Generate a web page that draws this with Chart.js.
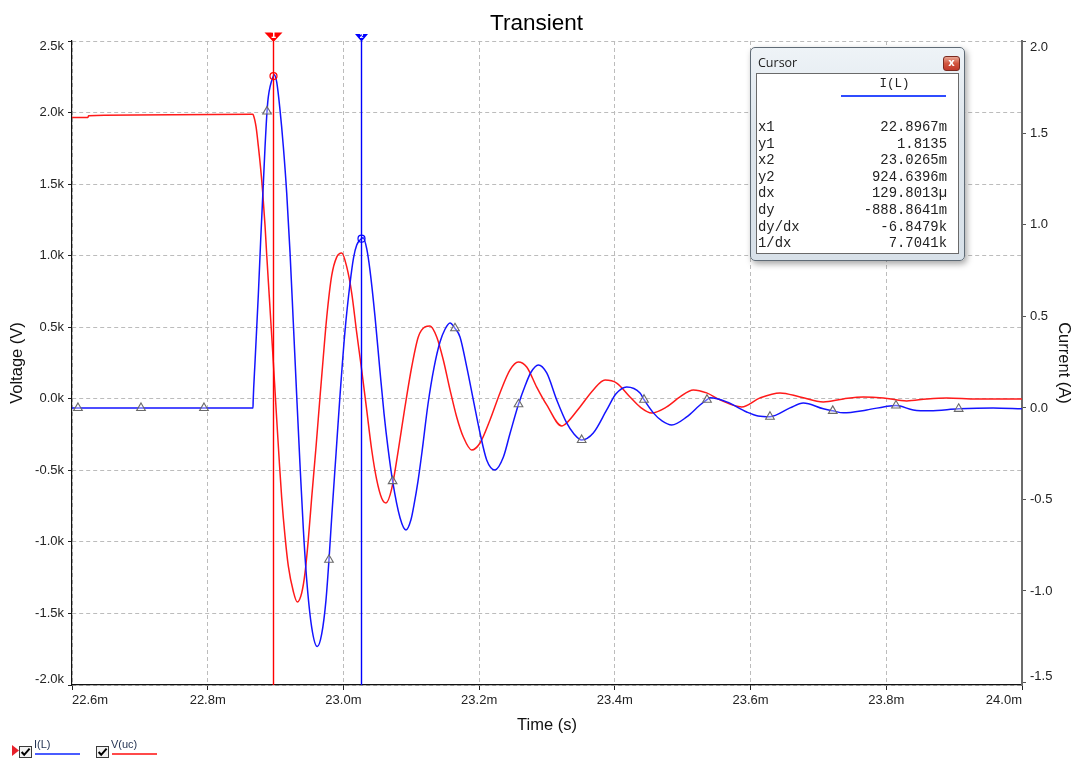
<!DOCTYPE html>
<html>
<head>
<meta charset="utf-8">
<title>Transient</title>
<script src="https://cdn.jsdelivr.net/npm/chart.js@4.4.1/dist/chart.umd.min.js"></script>
<style>
  html, body { margin: 0; padding: 0; background: #fff; }
  #wrap { position: relative; width: 1073px; height: 758px; overflow: hidden;
          font-family: "Liberation Sans", Arial, sans-serif; }
  #wrap canvas { position: absolute; left: 0; top: 0; }
  #cursorWin { position: absolute; left: 750px; top: 47px; width: 215px; height: 214px;
               box-sizing: border-box; border: 1px solid #5f6b76; border-radius: 5px;
               background: linear-gradient(#eef3f7, #dde5ec 40%, #d8e1e9);
               box-shadow: 2px 3px 6px rgba(0,0,0,0.35); }
  #cursorWin .cap { position: absolute; left: 7px; top: 6px; font: 12.5px "Open Sans", "Noto Sans", sans-serif;
                    color: #1b1b1b; }
  #cursorWin .close { position: absolute; left: 192px; top: 8px; width: 15px; height: 13px;
                      border: 1px solid #7a2a20; border-radius: 3px;
                      background: linear-gradient(#e8a593, #d2553f 50%, #c0392b);
                      color: #fff; font: bold 10px "DejaVu Sans", sans-serif; text-align: center; line-height: 12px; }
  #cursorWin .pane { position: absolute; left: 5px; top: 25px; width: 203px; height: 181px;
                     box-sizing: border-box; border: 1px solid #6a6a6a; background: #fff; }
  #cursorWin .hdr { position: absolute; left: 85px; width: 105px; top: 3px; text-align: center;
                    font: 12.5px "Liberation Mono", "DejaVu Sans Mono", monospace; color: #222; }
  #cursorWin .uline { position: absolute; left: 84px; width: 105px; top: 21px; height: 1.5px; background: #2f4cff; }
  #cursorWin .rows { position: absolute; left: 1px; right: 11px; top: 45px;
                     font: 13.9px "Liberation Mono", "DejaVu Sans Mono", monospace; color: #222; }
  #cursorWin .row { height: 16.6px; line-height: 16.6px; display: flex; justify-content: space-between; white-space: pre; }
  .lg { position: absolute; }
  .lgText { font: 11px "Liberation Sans", Arial, sans-serif; color: #1f2f4f; }
</style>
</head>
<body>
<div id="wrap">
  <canvas id="chart" width="1073" height="758"></canvas>

  <div id="cursorWin">
    <div class="cap">Cursor</div>
    <div class="close">x</div>
    <div class="pane">
      <div class="hdr">I(L)</div>
      <div class="uline"></div>
      <div class="rows" id="rows"></div>
    </div>
  </div>

  <!-- trace legend -->
  <svg class="lg" style="left:12px;top:745px" width="7" height="11" viewBox="0 0 7 11">
    <path d="M0 0 L7 5.5 L0 11 Z" fill="#e8202a"/>
  </svg>
  <svg class="lg" style="left:19px;top:746px" width="13" height="12" viewBox="0 0 13 12">
    <rect x="0.5" y="0.5" width="12" height="11" fill="#f2f2f2" stroke="#3a3a3a"/>
    <path d="M2.6 6 L5.2 8.8 L10.6 2.6" stroke="#000" stroke-width="2" fill="none"/>
  </svg>
  <div class="lg lgText" style="left:34px;top:738px">I(L)</div>
  <div class="lg" style="left:35px;top:753px;width:45px;height:1.5px;background:#4a5cff"></div>
  <svg class="lg" style="left:96px;top:746px" width="13" height="12" viewBox="0 0 13 12">
    <rect x="0.5" y="0.5" width="12" height="11" fill="#f2f2f2" stroke="#3a3a3a"/>
    <path d="M2.6 6 L5.2 8.8 L10.6 2.6" stroke="#000" stroke-width="2" fill="none"/>
  </svg>
  <div class="lg lgText" style="left:111px;top:738px">V(uc)</div>
  <div class="lg" style="left:112px;top:753px;width:45px;height:1.5px;background:#ff4a4a"></div>
</div>

<script>
// ---- time axis (ms) ----
const timeTicks  = [22.6, 22.8, 23.0, 23.2, 23.4, 23.6, 23.8, 24.0];
const timeLabels = ['22.6m', '22.8m', '23.0m', '23.2m', '23.4m', '23.6m', '23.8m', '24.0m'];

// ---- left axis: capacitor voltage (V) ----
const voltTicks  = [-2000, -1500, -1000, -500, 0, 500, 1000, 1500, 2000, 2500];
const voltLabels = ['-2.0k', '-1.5k', '-1.0k', '-0.5k', '0.0k', '0.5k', '1.0k', '1.5k', '2.0k', '2.5k'];

// ---- right axis: inductor current (A) ----
const currTicks  = [-1.5, -1.0, -0.5, 0, 0.5, 1.0, 1.5, 2.0];
const currLabels = ['-1.5', '-1.0', '-0.5', '0.0', '0.5', '1.0', '1.5', '2.0'];

// ---- I(L) trace ----
const iTime = [22.6000, 22.8667, 22.8670, 22.8697, 22.8746, 22.8781, 22.8819, 22.8844, 22.8893, 22.8980,
               22.9017, 22.9065, 22.9114, 22.9164, 22.9213, 22.9261, 22.9311, 22.9360, 22.9409, 22.9459,
               22.9533, 22.9615, 22.9680, 22.9743, 22.9832, 22.9891, 22.9950, 23.0023, 23.0097, 23.0149,
               23.0196, 23.0290, 23.0343, 23.0392, 23.0465, 23.0539, 23.0598, 23.0657, 23.0834, 23.0922,
               23.0996, 23.1040, 23.1099, 23.1158, 23.1246, 23.1335, 23.1423, 23.1497, 23.1571, 23.1718,
               23.1817, 23.1914, 23.2013, 23.2111, 23.2234, 23.2356, 23.2455, 23.2676, 23.2764, 23.2872,
               23.2996, 23.3143, 23.3290, 23.3398, 23.3682, 23.3880, 23.4017, 23.4175, 23.4371, 23.4567,
               23.4695, 23.4838, 23.5059, 23.5255, 23.5402, 23.5648, 23.5943, 23.6110, 23.6581, 23.6777,
               23.7072, 23.7367, 23.7712, 23.8055, 23.8398, 23.8644, 23.9573, 24.0000];
const iAmps = [0, 0, 0.04, 0.25, 0.62, 0.92, 1.22, 1.42, 1.70, 1.82,
               1.78, 1.63, 1.43, 1.175, 0.85, 0.47, 0.07, -0.31, -0.66, -0.94,
               -1.20, -1.304, -1.235, -1.05, -0.57, -0.25, 0.07, 0.42, 0.68, 0.82,
               0.89, 0.93, 0.87, 0.75, 0.50, 0.20, -0.03, -0.22, -0.60, -0.667,
               -0.61, -0.53, -0.40, -0.24, 0.02, 0.22, 0.36, 0.43, 0.464, 0.388,
               0.224, 0.044, -0.137, -0.284, -0.339, -0.27, -0.14, 0.12, 0.195, 0.235,
               0.191, 0.044, -0.082, -0.142, -0.137, -0.011, 0.077, 0.115, 0.082, -0.027,
               -0.071, -0.093, -0.049, 0.016, 0.055, 0.033, -0.022, -0.044, 0, 0.027,
               -0.005, -0.027, -0.011, 0.011, -0.011, -0.016, 0, -0.005];

// ---- V(uc) trace ----
const vTime = [22.6000, 22.6235, 22.6245, 22.7500, 22.8660, 22.8672, 22.8712, 22.8746, 22.8781, 22.8810,
               22.8844, 22.8869, 22.8908, 22.8943, 22.8967, 22.8992, 22.9017, 22.9055, 22.9090, 22.9139,
               22.9188, 22.9261, 22.9320, 22.9385, 22.9434, 22.9482, 22.9533, 22.9596, 22.9655, 22.9703,
               22.9754, 22.9827, 22.9901, 22.9975, 23.0048, 23.0122, 23.0196, 23.0269, 23.0343, 23.0417,
               23.0490, 23.0564, 23.0627, 23.0711, 23.0809, 23.0907, 23.1006, 23.1103, 23.1202, 23.1276,
               23.1375, 23.1472, 23.1571, 23.1669, 23.1767, 23.1890, 23.2013, 23.2160, 23.2307, 23.2455,
               23.2577, 23.2701, 23.2848, 23.2996, 23.3217, 23.3290, 23.3486, 23.3682, 23.3855, 23.4027,
               23.4223, 23.4371, 23.4543, 23.4764, 23.4960, 23.5156, 23.5353, 23.5550, 23.5869, 23.6139,
               23.6434, 23.6729, 23.7072, 23.7367, 23.7662, 23.7956, 23.8301, 23.8598, 23.8891, 23.9333,
               24.0000];
const vVolts = [1965, 1966, 1978, 1984, 1988, 1983, 1901, 1765, 1605, 1445,
                1215, 1010, 710, 440, 255, 55, -145, -440, -690, -960,
                -1170, -1345, -1420, -1357, -1217, -987, -686, -337, 13, 290,
                570, 860, 990, 1019, 923, 739, 460, 201, -78, -358,
                -565, -695, -728, -630, -358, -57, 222, 432, 502, 509,
                432, 271, 62, -127, -267, -358, -309, -148, 41, 202,
                257, 222, 82, -43, -190, -169, -57, 62, 131, 110,
                13, -57, -99, -57, 13, 62, 41, -8, -57, 6,
                41, 13, -22, -1, 13, 6, -15, -1, 6, -1,
                -1];

// ---- I(L) trace markers ----
const markTime = [22.6088, 22.7017, 22.7945, 22.8874, 22.9787, 23.0725, 23.1644, 23.2580, 23.3511, 23.4430,
                  23.5358, 23.6286, 23.7211, 23.8143, 23.9067];
const markAmps = [0, 0, 0, 1.62, -0.83, -0.40, 0.435, 0.02, -0.175, 0.045,
                  0.045, -0.048, -0.016, 0.013, -0.005];

// ---- cursors on I(L) ----
const cursorTime   = [22.8967, 23.0265];
const cursorAmps   = [1.8135, 0.9246396];
const cursorColor  = ['#ff0000', '#0000ff'];
const cursorName   = ['1', '2'];

// ---- cursor readout ----
const readNames  = ['x1', 'y1', 'x2', 'y2', 'dx', 'dy', 'dy/dx', '1/dx'];
const readValues = ['22.8967m', '1.8135', '23.0265m', '924.6396m', '129.8013\u00b5', '-888.8641m', '-6.8479k', '7.7041k'];

document.getElementById('rows').innerHTML = readNames
  .map((n, i) => `<div class="row"><span>${n}</span><span>${readValues[i]}</span></div>`).join('');

const pts = (xs, ys) => xs.map((x, i) => ({ x, y: ys[i] }));
const currentPts = pts(iTime, iAmps)
  .concat(pts(markTime, markAmps))
  .concat(pts(cursorTime, cursorAmps))
  .sort((a, b) => a.x - b.x);

const tickFont = { family: '"Liberation Sans", Arial, sans-serif', size: 13, lineHeight: 0.9 };
const titleFont = { family: '"Liberation Sans", Arial, sans-serif', size: 16.5 };

function pickLabel(values, labels, v) {
  let best = 0;
  values.forEach((t, i) => { if (Math.abs(t - v) < Math.abs(values[best] - v)) best = i; });
  return labels[best];
}
// end labels on the vertical axes are nudged inward
function edgeLabel(text, index, count) {
  if (index === count - 1) return ['', text];
  if (index === 0) return [text, ''];
  return text;
}

const cursorPlugin = {
  id: 'cursorLines',
  afterDatasetsDraw(chart) {
    const { ctx, chartArea, scales } = chart;
    const x = scales.x, yI = scales.yI;
    cursorTime.forEach((t, i) => {
      const px = Math.round(x.getPixelForValue(t)) + 0.5;
      const col = cursorColor[i];
      ctx.save();
      ctx.strokeStyle = col;
      ctx.lineWidth = 1.4;
      ctx.beginPath();
      ctx.moveTo(px, chartArea.top - 6);
      ctx.lineTo(px, chartArea.bottom);
      ctx.stroke();
      // flag on top of the cursor
      const hw = i === 0 ? 9 : 6.5;
      const top = i === 0 ? chartArea.top - 8.5 : chartArea.top - 7;
      const h = i === 0 ? 8.5 : 6.5;
      ctx.fillStyle = col;
      ctx.beginPath();
      ctx.moveTo(px - hw, top);
      ctx.lineTo(px + hw, top);
      ctx.lineTo(px + 1, top + h);
      ctx.lineTo(px - 1, top + h);
      ctx.closePath();
      ctx.fill();
      ctx.fillStyle = '#fff';
      ctx.font = 'bold ' + (i === 0 ? 8 : 6) + 'px "DejaVu Sans", sans-serif';
      ctx.textAlign = 'center';
      ctx.textBaseline = 'middle';
      ctx.fillText(cursorName[i], px, top + h / 2 - 0.5);
      // ring where the cursor meets the trace
      const py = yI.getPixelForValue(cursorAmps[i]);
      ctx.lineWidth = 1.2;
      ctx.beginPath();
      ctx.arc(px, py, 3.5, 0, Math.PI * 2);
      ctx.stroke();
      ctx.restore();
    });
  }
};

new Chart(document.getElementById('chart'), {
  type: 'line',
  data: {
    datasets: [
      {
        label: 'I(L)', data: currentPts, yAxisID: 'yI',
        borderColor: '#1414ff', borderWidth: 1.5, pointRadius: 0,
        cubicInterpolationMode: 'monotone', order: 2
      },
      {
        label: 'V(uc)', data: pts(vTime, vVolts), yAxisID: 'yV',
        borderColor: '#ff1a1a', borderWidth: 1.5, pointRadius: 0,
        cubicInterpolationMode: 'monotone', order: 3
      },
      {
        label: 'marks', data: pts(markTime, markAmps), yAxisID: 'yI',
        showLine: false, pointStyle: 'triangle', pointRadius: 5,
        pointBorderColor: '#6a6a6a', pointBackgroundColor: 'rgba(255,255,255,0.35)',
        pointBorderWidth: 1.1, order: 1
      }
    ]
  },
  options: {
    responsive: false,
    animation: false,
    devicePixelRatio: 1,
    layout: { padding: 0 },
    plugins: {
      legend: { display: false },
      tooltip: { enabled: false },
      title: {
        display: true, text: 'Transient', color: '#000',
        font: { family: '"Liberation Sans", Arial, sans-serif', size: 22.5, weight: 'normal', lineHeight: 1.2 },
        padding: { top: 10, bottom: 4 }
      }
    },
    scales: {
      x: {
        type: 'linear', position: 'bottom', min: 22.6, max: 24.0,
        afterBuildTicks: s => { s.ticks = timeTicks.map(v => ({ value: v })); },
        afterFit: s => { s.height = 73; },
        ticks: {
          align: 'inner', maxRotation: 0, autoSkip: false, padding: 5,
          color: '#222', font: tickFont,
          callback: v => pickLabel(timeTicks, timeLabels, v)
        },
        grid: { color: '#bcbcbc', lineWidth: 1, tickLength: 5, tickColor: '#222', tickWidth: 1 },
        border: { display: true, color: '#111', width: 1.2, dash: [4, 3] },
        title: { display: true, text: 'Time (s)', color: '#111', font: titleFont, padding: { top: 4, bottom: 23 } }
      },
      yV: {
        type: 'linear', position: 'left', min: -2000, max: 2500,
        afterBuildTicks: s => { s.ticks = voltTicks.map(v => ({ value: v })); },
        afterFit: s => { s.width = 72; },
        ticks: {
          padding: 4, color: '#222', font: tickFont,
          callback: (v, i, arr) => edgeLabel(pickLabel(voltTicks, voltLabels, v), i, arr.length)
        },
        grid: { color: '#bcbcbc', lineWidth: 1, tickLength: 4, tickColor: '#222', tickWidth: 1 },
        border: { display: true, color: '#111', width: 1.2, dash: [4, 3] },
        title: { display: true, text: 'Voltage (V)', color: '#111', font: titleFont, padding: { top: 8 } }
      },
      yI: {
        type: 'linear', position: 'right', min: -1.514, max: 2.005,
        afterBuildTicks: s => { s.ticks = currTicks.map(v => ({ value: v })); },
        afterFit: s => { s.width = 51; },
        ticks: {
          padding: 4, color: '#222', font: tickFont,
          callback: (v, i, arr) => edgeLabel(pickLabel(currTicks, currLabels, v), i, arr.length)
        },
        grid: { drawOnChartArea: false, tickLength: 4, tickColor: '#555', tickWidth: 1 },
        border: { display: true, color: '#6b6b6b', width: 2 },
        title: { display: true, text: 'Current (A)', color: '#111', font: titleFont, padding: { top: 0 } }
      }
    }
  },
  plugins: [cursorPlugin]
});
</script>
</body>
</html>
